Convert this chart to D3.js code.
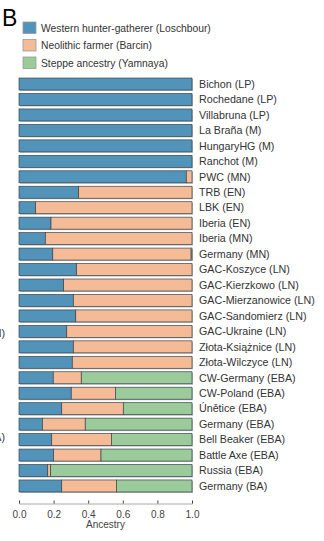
<!DOCTYPE html>
<html>
<head>
<meta charset="utf-8">
<script src="https://cdn.jsdelivr.net/npm/d3@7"></script>
<style>
  body { margin: 0; background: #fff; }
  text { font-family: "Liberation Sans", Arial, sans-serif; }
</style>
</head>
<body>
<div id="chart"></div>
<script>
// Chart size
var svgWidth = 324;
var svgHeight = 541;

// Samples, top to bottom
var samples = ["Bichon (LP)", "Rochedane (LP)", "Villabruna (LP)", "La Braña (M)",
  "HungaryHG (M)", "Ranchot (M)", "PWC (MN)", "TRB (EN)", "LBK (EN)", "Iberia (EN)",
  "Iberia (MN)", "Germany (MN)", "GAC-Koszyce (LN)", "GAC-Kierzkowo (LN)",
  "GAC-Mierzanowice (LN)", "GAC-Sandomierz (LN)", "GAC-Ukraine (LN)",
  "Złota-Książnice (LN)", "Złota-Wilczyce (LN)", "CW-Germany (EBA)", "CW-Poland (EBA)",
  "Únětice (EBA)", "Germany (EBA)", "Bell Beaker (EBA)", "Battle Axe (EBA)",
  "Russia (EBA)", "Germany (BA)"];

// ancestry fractions per sample
var hunterGatherer = [1, 1, 1, 1, 1, 1, 0.967, 0.345, 0.096, 0.185, 0.152, 0.195,
  0.333, 0.258, 0.314, 0.328, 0.276, 0.314, 0.308, 0.198, 0.302, 0.247, 0.135,
  0.189, 0.200, 0.166, 0.247];
var farmer = [0, 0, 0, 0, 0, 0, 0.033, 0.655, 0.904, 0.815, 0.848, 0.800,
  0.667, 0.742, 0.686, 0.672, 0.724, 0.686, 0.692, 0.162, 0.255, 0.356, 0.248,
  0.345, 0.274, 0.017, 0.316];
var steppe = [0, 0, 0, 0, 0, 0, 0, 0, 0, 0, 0, 0.005,
  0, 0, 0, 0, 0, 0, 0, 0.640, 0.443, 0.397, 0.617,
  0.466, 0.526, 0.817, 0.437];

var seriesNames = ["Western hunter-gatherer (Loschbour)", "Neolithic farmer (Barcin)", "Steppe ancestry (Yamnaya)"];
var seriesKeys = ["whg", "farmer", "steppe"];
var colors = ["#5294b9", "#f5bb96", "#9ccb9b"];
var xTicks = [0, 0.2, 0.4, 0.6, 0.8, 1.0];

var myData = samples.map(function(s, i) {
  return { name: s, whg: hunterGatherer[i], farmer: farmer[i], steppe: steppe[i] };
});

var svg = d3.select("#chart")
  .append("svg")
  .attr("width", svgWidth)
  .attr("height", svgHeight);

// Panel letter
svg.append("text")
  .attr("x", 2)
  .attr("y", 26)
  .attr("font-size", 23)
  .attr("fill", "#000")
  .text("B");

// Legend
var legend = svg.append("g").attr("transform", "translate(23, 22)");
seriesNames.forEach(function(n, i) {
  var row = legend.append("g").attr("transform", `translate(0, ${i * 17.5})`);
  row.append("rect")
    .attr("width", 13)
    .attr("height", 11.5)
    .attr("fill", colors[i])
    .attr("stroke", "#999")
    .attr("stroke-width", 0.8);
  row.append("text")
    .attr("x", 18)
    .attr("y", 6)
    .attr("dy", "0.35em")
    .attr("font-size", 10.3)
    .attr("fill", "#333")
    .text(n);
});

// Scales
var xScale = d3.scaleLinear().domain([0, 1]).range([19, 192]);
var yScale = d3.scaleBand()
  .domain(samples)
  .range([76.3, 493.7])
  .paddingInner(0.224)
  .paddingOuter(0.112);

var stack = d3.stack().keys(seriesKeys);
var stacked = stack(myData);

// shadows under bars
svg.append("g").selectAll("rect")
  .data(myData)
  .enter()
  .append("rect")
  .attr("x", xScale(0) + 1)
  .attr("y", d => yScale(d.name) + 1)
  .attr("width", xScale(1) - xScale(0))
  .attr("height", yScale.bandwidth())
  .attr("fill", "#b8b8b8");

// bar segments
var layers = svg.append("g").selectAll("g")
  .data(stacked)
  .enter()
  .append("g")
  .attr("fill", (d, i) => colors[i]);

layers.selectAll("rect")
  .data(d => d.filter(p => p[1] - p[0] > 0))
  .enter()
  .append("rect")
  .attr("x", d => xScale(d[0]))
  .attr("y", d => yScale(d.data.name))
  .attr("width", d => xScale(d[1]) - xScale(d[0]))
  .attr("height", yScale.bandwidth())
  .attr("stroke", "#39454e")
  .attr("stroke-width", 0.7);

// sample labels
svg.append("g").selectAll("text")
  .data(myData)
  .enter()
  .append("text")
  .attr("x", 199)
  .attr("y", d => yScale(d.name) + yScale.bandwidth() / 2)
  .attr("dy", "0.35em")
  .attr("font-size", 10.7)
  .attr("fill", "#333")
  .text(d => d.name);

// cut-off labels from neighbouring panel
svg.append("text").attr("x", 5).attr("y", 333).attr("dy", "0.35em")
  .attr("text-anchor", "end").attr("font-size", 10.7).attr("fill", "#333").text("(LN)");
svg.append("text").attr("x", 5).attr("y", 437).attr("dy", "0.35em")
  .attr("text-anchor", "end").attr("font-size", 10.7).attr("fill", "#333").text("(EBA)");

// x axis
var bottomAxis = d3.axisBottom(xScale)
  .tickValues(xTicks)
  .tickFormat(d3.format(".1f"))
  .tickSize(-3)
  .tickPadding(7);

var xAxis = svg.append("g")
  .attr("transform", "translate(0, 503.5)")
  .call(bottomAxis);
xAxis.select(".domain").attr("stroke", "#aaa");
xAxis.selectAll(".tick line").attr("stroke", "#444");
xAxis.selectAll(".tick text")
  .attr("font-size", 10)
  .attr("fill", "#444")
  .attr("font-family", "Liberation Sans, Arial, sans-serif");

svg.append("text")
  .attr("x", (xScale(0) + xScale(1)) / 2)
  .attr("y", 528)
  .attr("text-anchor", "middle")
  .attr("font-size", 10)
  .attr("fill", "#444")
  .text("Ancestry");
</script>
</body>
</html>
